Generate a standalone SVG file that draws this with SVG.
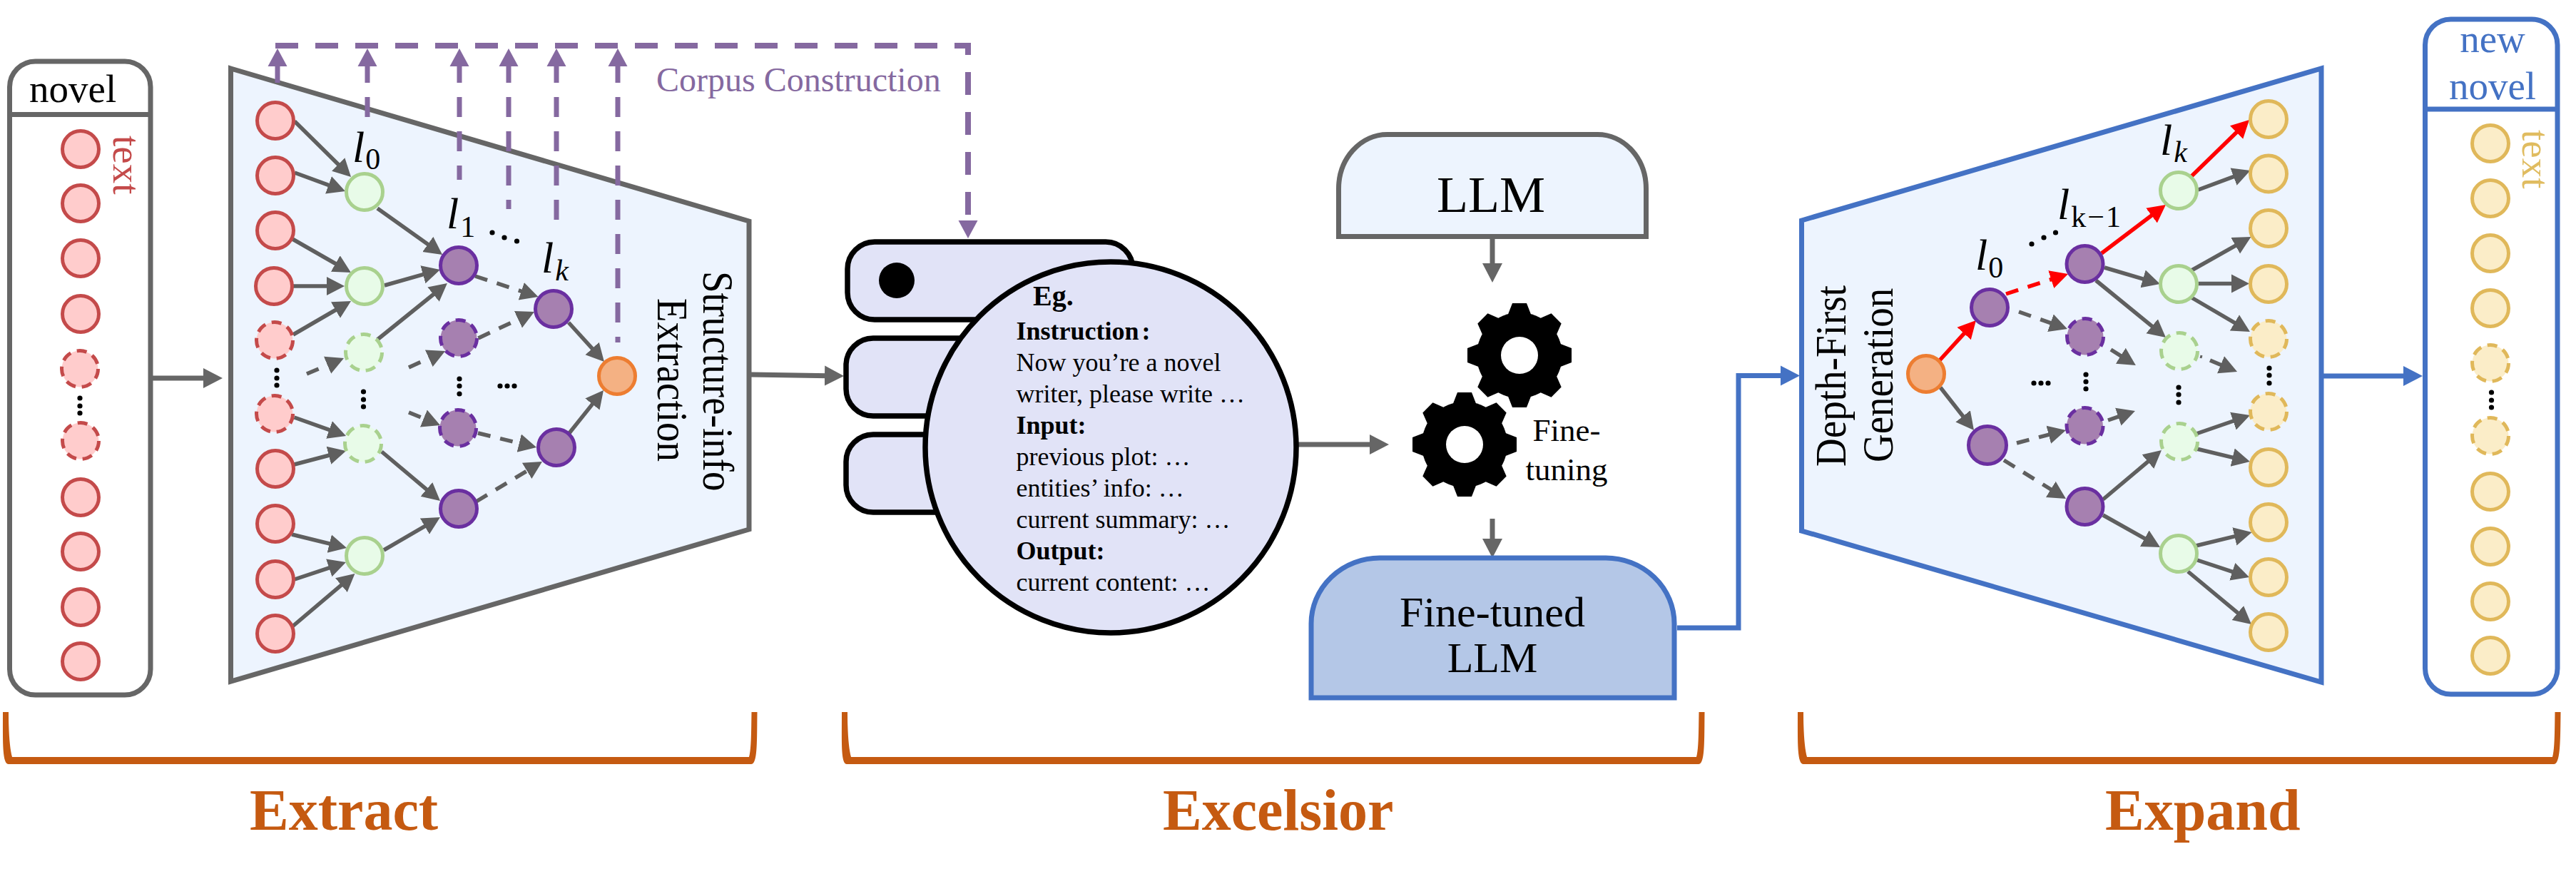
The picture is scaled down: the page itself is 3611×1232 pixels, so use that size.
<svg xmlns="http://www.w3.org/2000/svg" width="3611" height="1232" viewBox="0 0 3611 1232">
<style>
text{font-family:"Liberation Serif","Times New Roman",serif;fill:#000}
.b{font-weight:bold}
.red,.pur,.grn,.org,.yel{stroke-width:5}
.red{fill:#FFCCCC;stroke:#C44A4A}
.pur{fill:#A680B0;stroke:#6A2FA0}
.grn{fill:#E8FBE8;stroke:#A9D18E}
.org{fill:#F4B183;stroke:#ED7D31}
.yel{fill:#FBEDC8;stroke:#E0B85A}
.d{stroke-dasharray:14 9}
.dot{fill:#000}
.e{fill:none;stroke:#5F5F5F;stroke-width:5.5;marker-end:url(#hg)}
.ed{stroke-dasharray:18 14}
.r{fill:none;stroke:#F00;stroke-width:5.5;marker-end:url(#hr)}
.big{fill:none;stroke:#666;stroke-width:7;marker-end:url(#hb)}
.blue{fill:none;stroke:#4472C4;stroke-width:7;marker-end:url(#hbl)}
.cc{fill:none;stroke:#8569A0;stroke-width:7;stroke-dasharray:28 20;marker-start:url(#hp)}
.db{fill:#E1E3F7;stroke:#000;stroke-width:7.5}
.bk{fill:#C55A11}
.lab{fill:#C55A11;font-weight:bold;font-size:82px}
.sub{font-style:normal;font-size:42px}
.l{font-style:italic;font-size:62px}
.p{font-size:36px}
</style>
<defs>
<marker id="hg" markerUnits="userSpaceOnUse" markerWidth="30" markerHeight="30" refX="5" refY="15" orient="auto"><polygon points="0,2 25,15 0,28" fill="#5F5F5F"/></marker>
<marker id="hr" markerUnits="userSpaceOnUse" markerWidth="30" markerHeight="30" refX="5" refY="15" orient="auto"><polygon points="0,2 25,15 0,28" fill="#F00"/></marker>
<marker id="hb" markerUnits="userSpaceOnUse" markerWidth="32" markerHeight="32" refX="5" refY="16" orient="auto"><polygon points="0,2 27,16 0,30" fill="#666"/></marker>
<marker id="hbl" markerUnits="userSpaceOnUse" markerWidth="32" markerHeight="32" refX="5" refY="16" orient="auto"><polygon points="0,2 27,16 0,30" fill="#4472C4"/></marker>
<marker id="hp" markerUnits="userSpaceOnUse" markerWidth="32" markerHeight="32" refX="5" refY="16" orient="auto-start-reverse"><polygon points="0,2.5 25,16 0,29.5" fill="#8569A0"/></marker>
<marker id="hpe" markerUnits="userSpaceOnUse" markerWidth="32" markerHeight="32" refX="5" refY="16" orient="auto"><polygon points="0,2.5 25,16 0,29.5" fill="#8569A0"/></marker>
<g id="gear">
<circle r="60" fill="#000"/>
<g fill="#000">
<polygon points="-10,-73 10,-73 17,-55 -17,-55"/>
<polygon points="-10,-73 10,-73 17,-55 -17,-55" transform="rotate(45)"/>
<polygon points="-10,-73 10,-73 17,-55 -17,-55" transform="rotate(90)"/>
<polygon points="-10,-73 10,-73 17,-55 -17,-55" transform="rotate(135)"/>
<polygon points="-10,-73 10,-73 17,-55 -17,-55" transform="rotate(180)"/>
<polygon points="-10,-73 10,-73 17,-55 -17,-55" transform="rotate(225)"/>
<polygon points="-10,-73 10,-73 17,-55 -17,-55" transform="rotate(270)"/>
<polygon points="-10,-73 10,-73 17,-55 -17,-55" transform="rotate(315)"/>
</g>
<circle r="26" fill="#fff"/>
</g>
</defs>
<rect width="3611" height="1232" fill="#fff"/>

<g id="novel-box">
<rect x="13.5" y="86" width="197.5" height="888" rx="36" fill="#fff" stroke="#666" stroke-width="7"/>
<path d="M13.5 160.5H211" fill="none" stroke="#666" stroke-width="7"/>
<text x="41" y="143" font-size="55">novel</text>
<text transform="translate(159,190) rotate(90)" font-size="55" style="fill:#C44A4A">text</text>
</g>

<g id="extract-trapezoid">
<polygon points="323.5,96 1050,310 1050,742 323.5,955" fill="#EDF4FE" stroke="#666" stroke-width="7"/>
<text transform="translate(986,380) rotate(90) scale(1,1.1)" font-size="55">Structure-info</text>
<text transform="translate(922,418) rotate(90) scale(1,1.1)" font-size="55">Extraction</text>
</g>

<g id="expand-trapezoid">
<polygon points="2525.5,309 3254,96 3254,956 2525.5,744" fill="#EDF4FE" stroke="#4472C4" stroke-width="7"/>
<text transform="translate(2587,654) rotate(-90)" font-size="61" textLength="254" lengthAdjust="spacingAndGlyphs">Depth-First</text>
<text transform="translate(2653,648) rotate(-90) scale(1,1.1)" font-size="55">Generation</text>
</g>

<g id="connectors">
<path class="e" d="M413 170L477.8 234"/>
<path class="e" d="M413 242L465.2 261.1"/>
<path class="e" d="M410 335L474.6 372"/>
<path class="e" d="M411 401L463 401"/>
<path class="e" d="M411 469L474.7 432"/>
<path class="e ed" d="M430 524L463.6 509.8"/>
<path class="e" d="M412.5 585L466.2 604.2"/>
<path class="e" d="M412.5 651L465.7 637"/>
<path class="e" d="M409 749L466.6 763.2"/>
<path class="e" d="M413 812L466 794.3"/>
<path class="e" d="M410 878L482.2 816.9"/>
<path class="e" d="M529 292L603.8 345.3"/>
<path class="e" d="M539 400L597.7 383.4"/>
<path class="e" d="M529 476L611.4 409.5"/>
<path class="e ed" d="M573 515L605.8 500.2"/>
<path class="e ed" d="M573 578L598.5 588.4"/>
<path class="e" d="M535 633L601.7 689.1"/>
<path class="e" d="M538 771L599.7 735.1"/>
<path class="e ed" d="M666 387L735.5 409.8"/>
<path class="e ed" d="M670.5 474L730.9 445.5"/>
<path class="e ed" d="M670 607L732.6 622.3"/>
<path class="e ed" d="M667.5 703L742.9 657.4"/>
<path class="e" d="M797 452L833.5 492.1"/>
<path class="e" d="M798 607L833.5 562.6"/>

<path class="r" d="M2719 505L2756.5 463.8"/>
<path class="r ed" d="M2812 412L2880 390.1"/>
<path class="r" d="M2946 355L3020 299"/>
<path class="r" d="M3072 247L3138.7 182"/>
<path class="e" d="M3081.5 266L3135.7 245.9"/>
<path class="e" d="M2950 375L3008.8 392.3"/>
<path class="e" d="M2938 393L3020.5 460.4"/>
<path class="e ed" d="M2830 437L2879.1 454.3"/>
<path class="e ed" d="M2959 490L2977 501.4"/>
<path class="e" d="M2720 543L2754.7 587.3"/>
<path class="e ed" d="M2827 621L2876.6 608"/>
<path class="e ed" d="M2955 589L2974 582.5"/>
<path class="e ed" d="M2809 645L2879 688.5"/>
<path class="e" d="M2948 700L3014.7 643.9"/>
<path class="e" d="M2948 722L3010.6 757.2"/>
<path class="e" d="M3072 379L3138 341.8"/>
<path class="e" d="M3081.5 397.5L3133 397.5"/>
<path class="e" d="M3072 417L3136.7 454.9"/>
<path class="e ed" d="M3098 505L3117.6 513.2"/>
<path d="M3085 502L3086 498" fill="none" stroke="#5F5F5F" stroke-width="3"/>
<path class="e" d="M3078.6 608L3135.1 588.5"/>
<path class="e" d="M3079 629L3134.5 642.3"/>
<path class="e" d="M3078 765L3137.2 750.7"/>
<path class="e" d="M3080 785L3134 802.8"/>
<path class="e" d="M3067 801L3140.6 862.2"/>

<path class="big" d="M214 530H290"/>
<path class="big" d="M1053 525L1161 526.7"/>
<path class="big" d="M1820 623H1925"/>
<path class="big" d="M2092 335V374"/>
<path class="big" d="M2092 727V760"/>
<path class="blue" d="M2351 880H2437V526.5H2501"/>
<path class="blue" d="M3257 527H3374"/>

<path class="cc" d="M389 88V116"/>
<path class="cc" d="M515 88V164"/>
<path class="cc" d="M644 88V252"/>
<path class="cc" d="M713 88V293"/>
<path class="cc" d="M780 88V308"/>
<path class="cc" d="M866 88V480"/>
<path d="M386 64H1357V314" fill="none" stroke="#8569A0" stroke-width="8" stroke-dasharray="32 24" marker-end="url(#hpe)"/>
</g>
<text x="920" y="128" font-size="48" style="fill:#8569A0">Corpus Construction</text>

<g id="tree-left">
<g id="a1"><circle class="red" cx="113" cy="209" r="25.5"/></g>
<g id="a2"><circle class="red" cx="113" cy="285" r="25.5"/></g>
<g id="a3"><circle class="red" cx="113" cy="362" r="25.5"/></g>
<g id="a4"><circle class="red" cx="113" cy="440" r="25.5"/></g>
<g id="a5"><circle class="red d" cx="112" cy="517" r="25.5"/></g>
<g id="a6"><circle class="red d" cx="113" cy="618" r="25.5"/></g>
<g id="a7"><circle class="red" cx="113" cy="697" r="25.5"/></g>
<g id="a8"><circle class="red" cx="113" cy="773" r="25.5"/></g>
<g id="a9"><circle class="red" cx="113" cy="851" r="25.5"/></g>
<g id="a10"><circle class="red" cx="113" cy="927" r="25.5"/></g>

<g id="b1"><circle class="red" cx="386" cy="169" r="25.5"/></g>
<g id="b2"><circle class="red" cx="386" cy="246" r="25.5"/></g>
<g id="b3"><circle class="red" cx="386" cy="323" r="25.5"/></g>
<g id="b4"><circle class="red" cx="384" cy="401" r="25.5"/></g>
<g id="b5"><circle class="red d" cx="385" cy="477" r="25.5"/></g>
<g id="b6"><circle class="red d" cx="385" cy="580" r="25.5"/></g>
<g id="b7"><circle class="red" cx="386" cy="657" r="25.5"/></g>
<g id="b8"><circle class="red" cx="386" cy="734" r="25.5"/></g>
<g id="b9"><circle class="red" cx="386" cy="812" r="25.5"/></g>
<g id="b10"><circle class="red" cx="386" cy="888" r="25.5"/></g>

<g id="c1"><circle class="grn" cx="511" cy="269" r="25.5"/></g>
<g id="c2"><circle class="grn" cx="511" cy="401" r="25.5"/></g>
<g id="c3"><circle class="grn d" cx="510" cy="494" r="25.5"/></g>
<g id="c4"><circle class="grn d" cx="509" cy="622" r="25.5"/></g>
<g id="c5"><circle class="grn" cx="511" cy="779" r="25.5"/></g>

<g id="d1"><circle class="pur" cx="643" cy="372" r="25.5"/></g>
<g id="d2"><circle class="pur d" cx="643" cy="474" r="25.5"/></g>
<g id="d3"><circle class="pur d" cx="642" cy="600" r="25.5"/></g>
<g id="d4"><circle class="pur" cx="643" cy="713" r="25.5"/></g>
<g id="e1"><circle class="pur" cx="776" cy="433" r="25.5"/></g>
<g id="e2"><circle class="pur" cx="780" cy="627" r="25.5"/></g>
<g id="f1"><circle class="org" cx="865" cy="527" r="25.5"/></g>
</g>

<g id="tree-right">
<g id="g1"><circle class="org" cx="2700" cy="524" r="25.5"/></g>
<g id="h1"><circle class="pur" cx="2789" cy="431" r="25.5"/></g>
<g id="h2"><circle class="pur" cx="2786" cy="624" r="26.5"/></g>
<g id="i1"><circle class="pur" cx="2922.5" cy="370" r="25.5"/></g>
<g id="i2"><circle class="pur d" cx="2923" cy="472" r="25.5"/></g>
<g id="i3"><circle class="pur d" cx="2922.5" cy="597" r="25.5"/></g>
<g id="i4"><circle class="pur" cx="2922.5" cy="710" r="25.5"/></g>
<g id="j1"><circle class="grn" cx="3054" cy="267" r="25.5"/></g>
<g id="j2"><circle class="grn" cx="3054" cy="398" r="25.5"/></g>
<g id="j3"><circle class="grn d" cx="3055" cy="492" r="25.5"/></g>
<g id="j4"><circle class="grn d" cx="3055" cy="619" r="25.5"/></g>
<g id="j5"><circle class="grn" cx="3054" cy="776" r="25.5"/></g>
<g id="k1"><circle class="yel" cx="3180" cy="167" r="25.5"/></g>
<g id="k2"><circle class="yel" cx="3180" cy="243.5" r="25.5"/></g>
<g id="k3"><circle class="yel" cx="3180" cy="320" r="25.5"/></g>
<g id="k4"><circle class="yel" cx="3180" cy="398" r="25.5"/></g>
<g id="k5"><circle class="yel d" cx="3180" cy="475" r="25.5"/></g>
<g id="k6"><circle class="yel d" cx="3180" cy="577" r="25.5"/></g>
<g id="k7"><circle class="yel" cx="3180" cy="655" r="25.5"/></g>
<g id="k8"><circle class="yel" cx="3180" cy="732" r="25.5"/></g>
<g id="k9"><circle class="yel" cx="3180" cy="809" r="25.5"/></g>
<g id="k10"><circle class="yel" cx="3180" cy="886" r="25.5"/></g>
</g>

<g id="new-novel-box">
<rect x="3399.5" y="27" width="185.5" height="946" rx="36" fill="#fff" stroke="#4472C4" stroke-width="7"/>
<path d="M3399.5 153H3585" fill="none" stroke="#4472C4" stroke-width="7"/>
<text x="3494" y="73" font-size="55" text-anchor="middle" style="fill:#4472C4">new</text>
<text x="3494" y="138.5" font-size="55" text-anchor="middle" style="fill:#4472C4">novel</text>
<text transform="translate(3536,182) rotate(90)" font-size="55" style="fill:#E0BC60">text</text>
<g id="m1"><circle class="yel" cx="3491" cy="201" r="25.5"/></g>
<g id="m2"><circle class="yel" cx="3491" cy="278" r="25.5"/></g>
<g id="m3"><circle class="yel" cx="3491" cy="355" r="25.5"/></g>
<g id="m4"><circle class="yel" cx="3491" cy="432" r="25.5"/></g>
<g id="m5"><circle class="yel d" cx="3491" cy="509" r="25.5"/></g>
<g id="m6"><circle class="yel d" cx="3491" cy="611" r="25.5"/></g>
<g id="m7"><circle class="yel" cx="3491" cy="689" r="25.5"/></g>
<g id="m8"><circle class="yel" cx="3491" cy="766" r="25.5"/></g>
<g id="m9"><circle class="yel" cx="3491" cy="843" r="25.5"/></g>
<g id="m10"><circle class="yel" cx="3491" cy="919" r="25.5"/></g>
</g>

<g id="ellipsis-dots">
<circle class="dot" cx="112" cy="558" r="3.6"/><circle class="dot" cx="112" cy="569" r="3.6"/><circle class="dot" cx="112" cy="579" r="3.6"/>
<circle class="dot" cx="388" cy="519" r="3.6"/><circle class="dot" cx="388" cy="530" r="3.6"/><circle class="dot" cx="388" cy="540" r="3.6"/>
<circle class="dot" cx="509.5" cy="549" r="3.6"/><circle class="dot" cx="509.5" cy="560" r="3.6"/><circle class="dot" cx="509.5" cy="570" r="3.6"/>
<circle class="dot" cx="644" cy="531" r="3.6"/><circle class="dot" cx="644" cy="541" r="3.6"/><circle class="dot" cx="644" cy="552" r="3.6"/>
<circle class="dot" cx="701" cy="541" r="3.6"/><circle class="dot" cx="711" cy="541" r="3.6"/><circle class="dot" cx="721" cy="541" r="3.6"/>
<circle class="dot" cx="690" cy="326" r="3.6"/><circle class="dot" cx="707" cy="333" r="3.6"/><circle class="dot" cx="724.5" cy="338" r="3.6"/>
<circle class="dot" cx="2848" cy="342" r="3.6"/><circle class="dot" cx="2865" cy="333" r="3.6"/><circle class="dot" cx="2881.5" cy="326" r="3.6"/>
<circle class="dot" cx="2851" cy="537" r="3.6"/><circle class="dot" cx="2861" cy="537" r="3.6"/><circle class="dot" cx="2871" cy="537" r="3.6"/>
<circle class="dot" cx="2924" cy="525" r="3.6"/><circle class="dot" cx="2924" cy="535" r="3.6"/><circle class="dot" cx="2924" cy="545" r="3.6"/>
<circle class="dot" cx="3054" cy="543" r="3.6"/><circle class="dot" cx="3054" cy="553" r="3.6"/><circle class="dot" cx="3054" cy="564" r="3.6"/>
<circle class="dot" cx="3181" cy="516" r="3.6"/><circle class="dot" cx="3181" cy="526" r="3.6"/><circle class="dot" cx="3181" cy="537" r="3.6"/>
<circle class="dot" cx="3492.5" cy="550" r="3.6"/><circle class="dot" cx="3492.5" cy="561" r="3.6"/><circle class="dot" cx="3492.5" cy="571" r="3.6"/>
</g>

<g id="level-labels">
<text class="l" x="494" y="227">l<tspan class="sub" dx="1" dy="10">0</tspan></text>
<text class="l" x="626" y="320">l<tspan class="sub" dx="2" dy="12">1</tspan></text>
<text class="l" x="759" y="382">l<tspan font-size="42" dx="2" dy="11">k</tspan></text>
<text class="l" x="2769" y="378">l<tspan class="sub" dx="1" dy="11">0</tspan></text>
<text class="l" x="2884" y="307">l<tspan class="sub" dx="2" dy="11" letter-spacing="2">k−1</tspan></text>
<text class="l" x="3028" y="217">l<tspan font-size="42" dx="2" dy="10">k</tspan></text>
</g>

<g id="corpus-db">
<rect class="db" x="1188" y="339" width="400" height="109" rx="38"/>
<circle cx="1257" cy="393" r="25" fill="#000"/>
<rect class="db" x="1186" y="474" width="402" height="109" rx="38"/>
<rect class="db" x="1186" y="609" width="402" height="109" rx="38"/>
</g>
<g id="example-circle">
<circle class="db" cx="1557" cy="627" r="260"/>
<text class="b" x="1448" y="428" font-size="40">Eg.</text>
<text class="p b" x="1424.5" y="476">Instruction<tspan dx="4">:</tspan></text>
<text class="p" x="1424.5" y="520">Now you’re a novel</text>
<text class="p" x="1424.5" y="564">writer, please write …</text>
<text class="p b" x="1424.5" y="608">Input:</text>
<text class="p" x="1424.5" y="652">previous plot: …</text>
<text class="p" x="1424.5" y="696">entities’ info: …</text>
<text class="p" x="1424.5" y="740">current summary: …</text>
<text class="p b" x="1424.5" y="784">Output:</text>
<text class="p" x="1424.5" y="828">current content: …</text>
</g>

<g id="llm">
<path d="M1876.5 331.5V265A68 76 0 0 1 1944.5 188.5H2239.5A68 76 0 0 1 2307.5 265V331.5Z" fill="#EDF4FE" stroke="#666" stroke-width="7"/>
<text x="2090" y="297" font-size="72" text-anchor="middle">LLM</text>
</g>
<g id="gears">
<use href="#gear" x="2130" y="498"/>
<use href="#gear" x="2053" y="623"/>
<text x="2196" y="618" font-size="45" text-anchor="middle">Fine-</text>
<text x="2196" y="673" font-size="45" text-anchor="middle">tuning</text>
</g>
<g id="fine-tuned-llm">
<path d="M1838 978V874A96 92 0 0 1 1934 782H2251A96 92 0 0 1 2347 874V978Z" fill="#B4C7E7" stroke="#4472C4" stroke-width="7"/>
<text x="2092" y="878" font-size="60" text-anchor="middle">Fine-tuned</text>
<text x="2092" y="942" font-size="60" text-anchor="middle">LLM</text>
</g>

<g id="brackets">
<g id="extract-label">
<path class="bk" d="M4 998C4 1040 3 1071 12 1071H1053C1062 1071 1061 1040 1061.500 998H1053.500C1053 1030 1053 1050 1050 1061H17C14 1050 12 1030 12 998Z"/>
<text class="lab" x="350" y="1163">Extract</text>
</g>
<g id="excelsior-label">
<path class="bk" d="M1180 998C1180 1040 1178.500 1071 1187 1071H2381C2390 1071 2389 1040 2389.500 998H2381.500C2381 1030 2381 1050 2378 1061H1193C1190 1050 1188 1030 1188 998Z"/>
<text class="lab" x="1630" y="1163">Excelsior</text>
</g>
<g id="expand-label">
<path class="bk" d="M2520 998C2520 1040 2519 1071 2528 1071H3580C3589 1071 3589 1040 3589.500 998H3581.500C3581 1030 3581 1050 3578 1061H2533C2530 1050 2528 1030 2528 998Z"/>
<text class="lab" x="2951" y="1163">Expand</text>
</g>
</g>
</svg>
